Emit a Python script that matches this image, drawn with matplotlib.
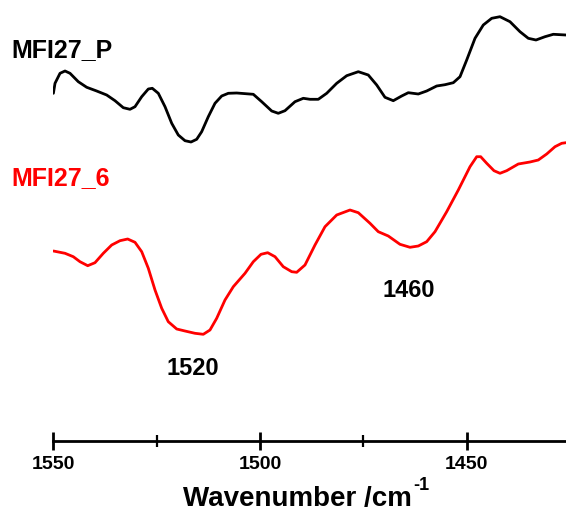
import numpy as np
import matplotlib
matplotlib.use("Agg")
import matplotlib.pyplot as plt

# IR spectra, wavenumber in cm-1, intensity in arbitrary (offset) units
wn_p = [1550.0, 1549.61, 1548.40, 1547.19, 1545.98, 1543.98, 1541.94, 1539.53,
        1537.11, 1535.10, 1533.09, 1531.47, 1530.26, 1528.64, 1527.04, 1526.08,
        1524.62, 1523.00, 1521.38, 1519.79, 1518.17, 1516.71, 1515.34, 1514.13,
        1512.53, 1510.91, 1509.29, 1507.69, 1505.66, 1501.64, 1499.61, 1497.19,
        1495.60, 1493.98, 1491.56, 1489.55, 1487.93, 1485.92, 1483.89, 1481.47,
        1479.05, 1476.24, 1473.83, 1471.79, 1469.79, 1467.78, 1465.75, 1464.15,
        1461.73, 1459.70, 1457.28, 1455.27, 1453.26, 1451.64, 1450.02, 1448.01,
        1446.01, 1443.97, 1441.97, 1439.55, 1437.13, 1435.12, 1433.26, 1431.08,
        1429.07, 1426.0]
int_p = [3.477, 3.577, 3.677, 3.700, 3.677, 3.593, 3.537, 3.500,
         3.460, 3.403, 3.333, 3.317, 3.343, 3.443, 3.520, 3.527,
         3.477, 3.343, 3.177, 3.060, 3.003, 2.990, 3.017, 3.093,
         3.243, 3.377, 3.450, 3.477, 3.480, 3.467, 3.393, 3.300,
         3.277, 3.303, 3.393, 3.427, 3.417, 3.417, 3.477, 3.577,
         3.653, 3.693, 3.660, 3.560, 3.437, 3.403, 3.450, 3.483,
         3.470, 3.500, 3.550, 3.563, 3.583, 3.643, 3.810, 4.027,
         4.160, 4.227, 4.243, 4.193, 4.093, 4.027, 4.010, 4.043,
         4.067, 4.060]

wn_6 = [1550.0, 1547.19, 1545.19, 1543.57, 1541.70, 1539.94, 1537.93, 1535.90,
        1533.89, 1532.03, 1530.26, 1528.64, 1527.04, 1525.42, 1523.80, 1522.21,
        1520.17, 1518.17, 1515.75, 1513.74, 1512.12, 1510.50, 1508.49, 1506.48,
        1503.65, 1501.64, 1499.78, 1498.16, 1496.39, 1494.39, 1492.35, 1491.15,
        1489.14, 1486.72, 1484.30, 1481.47, 1478.25, 1476.24, 1473.41, 1471.41,
        1468.99, 1466.16, 1463.74, 1461.73, 1459.70, 1457.69, 1454.86, 1452.05,
        1449.22, 1447.60, 1446.64, 1445.18, 1443.42, 1441.97, 1440.35, 1437.54,
        1434.71, 1432.70, 1430.67, 1428.66, 1427.04, 1426.0]
int_6 = [1.900, 1.877, 1.843, 1.793, 1.753, 1.783, 1.877, 1.960,
         2.003, 2.020, 1.987, 1.893, 1.727, 1.510, 1.327, 1.193,
         1.120, 1.100, 1.077, 1.067, 1.110, 1.227, 1.410, 1.543,
         1.677, 1.793, 1.867, 1.883, 1.843, 1.743, 1.693, 1.687,
         1.760, 1.960, 2.143, 2.260, 2.310, 2.283, 2.177, 2.093,
         2.050, 1.967, 1.937, 1.950, 1.993, 2.093, 2.293, 2.510,
         2.743, 2.843, 2.843, 2.777, 2.703, 2.677, 2.703, 2.770,
         2.790, 2.810, 2.870, 2.943, 2.977, 2.983]

major_ticks = [1550, 1500, 1450]
minor_ticks = [1525, 1475]
peak_labels = ["1520", "1460"]
peak_pos = [(1516.35, 0.66), (1464.15, 1.443)]

plt.rcParams['font.family'] = ['Liberation Sans', 'DejaVu Sans']
plt.rcParams['font.weight'] = 'bold'

fig = plt.figure(figsize=(5.66, 5.13), dpi=100)
ax = fig.add_axes([53.4 / 566, 72 / 513, 1 - 53.4 / 566, 1 - 72 / 513])

ax.plot(wn_p, int_p, color='black', lw=2.0, solid_joinstyle='round', solid_capstyle='round')
ax.plot(wn_6, int_6, color='red', lw=2.0, solid_joinstyle='round', solid_capstyle='round')

ax.set_xlim(1550, 1426)
ax.set_ylim(0, 4.41)

for s in ['top', 'right', 'left']:
    ax.spines[s].set_visible(False)
ax.spines['bottom'].set_linewidth(2.0)
ax.set_yticks([])
ax.set_xticks(major_ticks)
ax.set_xticks(minor_ticks, minor=True)
ax.tick_params(axis='x', which='major', direction='inout', length=13.3, width=2.0,
               labelsize=14, pad=4.5)
ax.tick_params(axis='x', which='minor', direction='inout', length=8.4, width=1.6)
for lab in ax.get_xticklabels():
    lab.set_fontweight('bold')

for txt, (x, y) in zip(peak_labels, peak_pos):
    ax.text(x, y, txt, ha='center', va='baseline', fontsize=17, fontweight='bold')

fig.text(11.7 / 566, 1 - 56.7 / 513, "MFI27_P", fontsize=18, fontweight='bold',
         color='black', va='baseline', ha='left')
fig.text(11.7 / 566, 1 - 185 / 513, "MFI27_6", fontsize=18, fontweight='bold',
         color='red', va='baseline', ha='left')
fig.text(183.3 / 566, 1 - 506 / 513, "Wavenumber /cm", fontsize=20,
         fontweight='bold', va='baseline', ha='left')
fig.text(413.5 / 566, 1 - 490.5 / 513, "-1", fontsize=13,
         fontweight='bold', va='baseline', ha='left')

fig.savefig("out.png", dpi=100)
